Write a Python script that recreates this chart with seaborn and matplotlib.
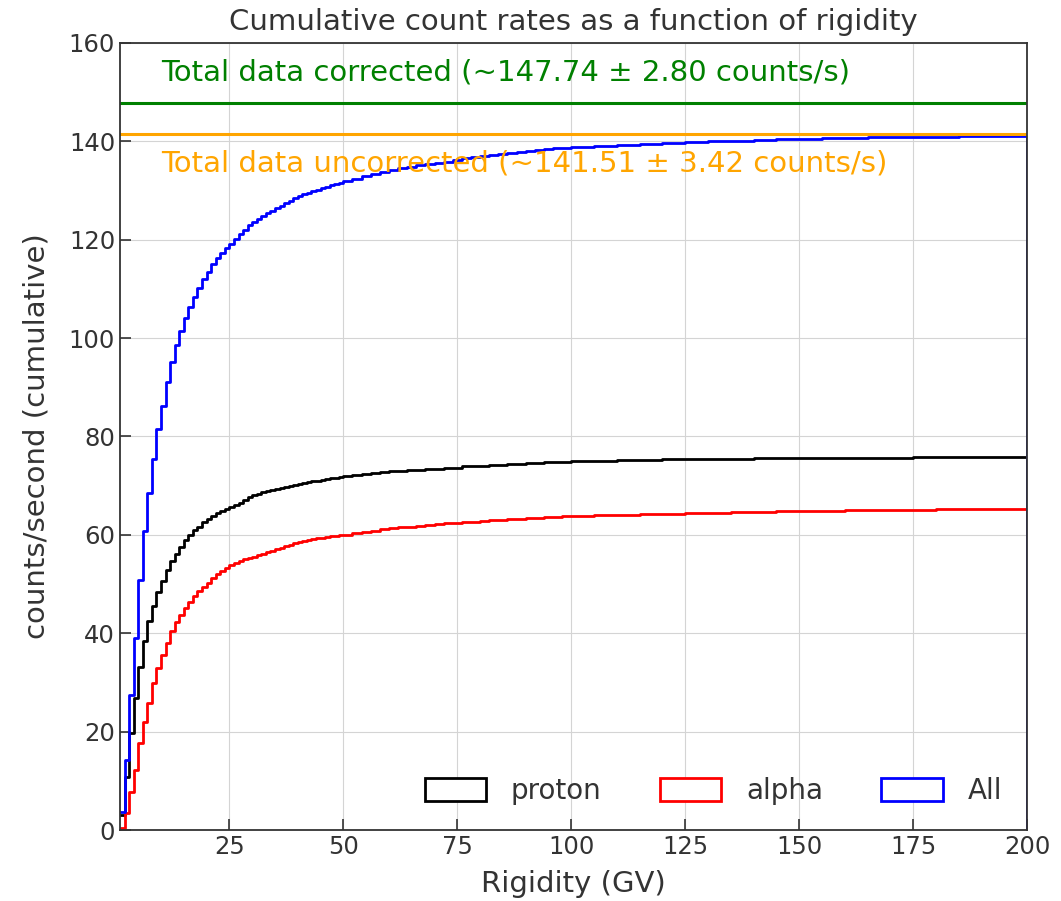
import numpy as np
import pandas as pd
import seaborn as sns
import matplotlib.pyplot as plt
from matplotlib.patches import Patch

# bin edges (GV): 1 GV bins up to 50, 2 GV up to 100, 5 GV up to 200
bin_edges = list(range(1, 50)) + list(range(50, 100, 2)) + list(range(100, 201, 5))

# cumulative count rate (counts/s) read per bin
proton = [3.1, 10.8, 19.8, 26.8, 33.1, 38.5, 42.5, 45.5, 48.4, 50.6,
          52.8, 54.6, 56.2, 57.6, 58.9, 59.9, 60.9, 61.7, 62.6, 63.3,
          63.9, 64.4, 64.8, 65.2, 65.6, 66.0, 66.4, 67.0, 67.6, 68.1,
          68.4, 68.7, 69.0, 69.2, 69.4, 69.6, 69.8, 70.0, 70.2, 70.4,
          70.6, 70.7, 70.9, 71.0, 71.2, 71.3, 71.5, 71.6, 71.8,
          71.9, 72.1, 72.3, 72.5, 72.7, 72.9, 73.0, 73.1, 73.2, 73.3,
          73.4, 73.5, 73.6, 73.9, 74.0, 74.1, 74.2, 74.3, 74.4, 74.5,
          74.6, 74.7, 74.8, 74.85, 74.9,
          75.0, 75.1, 75.2, 75.3, 75.35, 75.4, 75.45, 75.5, 75.55, 75.6,
          75.6, 75.65, 75.7, 75.7, 75.7, 75.75, 75.75, 75.75, 75.8, 75.8]
alpha = [0.5, 3.4, 7.8, 12.2, 17.6, 22.0, 25.9, 29.8, 32.9, 35.5,
         38.1, 40.4, 42.2, 43.7, 45.1, 46.4, 47.5, 48.5, 49.3, 50.3,
         51.2, 52.0, 52.7, 53.3, 53.9, 54.3, 54.7, 55.0, 55.3, 55.6,
         55.9, 56.2, 56.5, 56.8, 57.1, 57.4, 57.7, 58.0, 58.3, 58.5,
         58.7, 58.9, 59.1, 59.3, 59.4, 59.6, 59.7, 59.8, 59.9,
         60.0, 60.3, 60.6, 60.8, 61.1, 61.3, 61.5, 61.7, 61.9, 62.0,
         62.2, 62.4, 62.5, 62.6, 62.7, 62.9, 63.0, 63.1, 63.2, 63.3,
         63.4, 63.5, 63.6, 63.7, 63.8,
         63.9, 64.0, 64.1, 64.2, 64.3, 64.4, 64.5, 64.6, 64.7, 64.8,
         64.85, 64.9, 65.0, 65.05, 65.1, 65.15, 65.2, 65.25, 65.3, 65.35]
all_particles = [3.6, 14.2, 27.5, 39.0, 50.9, 60.7, 68.5, 75.4, 81.5, 86.1,
                 91.1, 95.1, 98.5, 101.4, 104.1, 106.3, 108.4, 110.2, 112.0, 113.5,
                 115.0, 116.3, 117.4, 118.3, 119.2, 120.2, 121.1, 122.0, 122.9, 123.7,
                 124.3, 124.9, 125.4, 125.9, 126.4, 126.9, 127.4, 127.9, 128.4, 128.8,
                 129.2, 129.5, 129.9, 130.2, 130.5, 130.8, 131.1, 131.3, 131.6,
                 131.9, 132.4, 132.9, 133.4, 133.8, 134.2, 134.5, 134.8, 135.1, 135.4,
                 135.6, 135.9, 136.2, 136.6, 136.8, 137.0, 137.2, 137.4, 137.6, 137.8,
                 138.0, 138.2, 138.4, 138.6, 138.7,
                 138.9, 139.1, 139.3, 139.5, 139.7, 139.8, 140.0, 140.1, 140.3, 140.4,
                 140.5, 140.6, 140.7, 140.8, 140.8, 140.9, 140.9, 141.0, 141.0, 141.0]

series_names = ['proton', 'alpha', 'All']
series_colors = ['black', 'red', 'blue']

total_corrected = 147.74
total_corrected_err = 2.80
total_uncorrected = 141.51
total_uncorrected_err = 3.42

edges = np.array(bin_edges, dtype=float)
centers = (edges[:-1] + edges[1:]) / 2
df = pd.concat([
    pd.DataFrame({'rigidity': centers, 'rate': vals, 'species': name})
    for name, vals in zip(series_names, [proton, alpha, all_particles])
])

sns.set_style('whitegrid', {
    'axes.edgecolor': '.2',
    'grid.color': '.83',
    'xtick.bottom': True,
    'ytick.left': True,
    'xtick.direction': 'in',
    'ytick.direction': 'in',
    'xtick.color': '.2',
    'ytick.color': '.2',
    'text.color': '.2',
    'axes.labelcolor': '.2',
})
plt.rcParams['font.family'] = ['DejaVu Sans']

fig = plt.figure(figsize=(10.61, 9.01), dpi=100)
ax = fig.add_axes([0.1131, 0.0788, 0.8549, 0.8735])

for name, color in zip(series_names, series_colors):
    sub = df[df['species'] == name]
    sns.histplot(data=sub, x='rigidity', weights='rate', bins=list(bin_edges),
                 element='step', fill=False, color=color, linewidth=2.0, ax=ax)
    ax.vlines(edges[-1], 0, sub['rate'].iloc[-1], color=color, linewidth=2.0)

ax.axhline(total_corrected, color='green', linewidth=2.2)
ax.axhline(total_uncorrected, color='orange', linewidth=2.2)
ax.text(10, 152.4, f'Total data corrected (~{total_corrected:.2f} ± {total_corrected_err:.2f} counts/s)',
        color='green', fontsize=21)
ax.text(10, 133.8, f'Total data uncorrected (~{total_uncorrected:.2f} ± {total_uncorrected_err:.2f} counts/s)',
        color='orange', fontsize=21)

ax.set_xlim(1, 200)
ax.set_ylim(0, 160)
ax.set_xticks([25, 50, 75, 100, 125, 150, 175, 200])
ax.set_yticks(range(0, 161, 20))
ax.tick_params(labelsize=17.5, length=8, width=1.2)
for s in ax.spines.values():
    s.set_linewidth(1.3)

ax.set_title('Cumulative count rates as a function of rigidity', fontsize=21, pad=9)
ax.set_xlabel('Rigidity (GV)', fontsize=21, labelpad=8)
ax.set_ylabel('counts/second (cumulative)', fontsize=21, labelpad=13)

handles = [Patch(facecolor='white', edgecolor=c, linewidth=2.0) for c in series_colors]
ax.legend(handles, series_names, loc='lower right', ncol=3, frameon=False,
          fontsize=20, handlelength=2.2, handleheight=0.9,
          handletextpad=0.9, columnspacing=2.1)

fig.savefig('out.png', dpi=100)
